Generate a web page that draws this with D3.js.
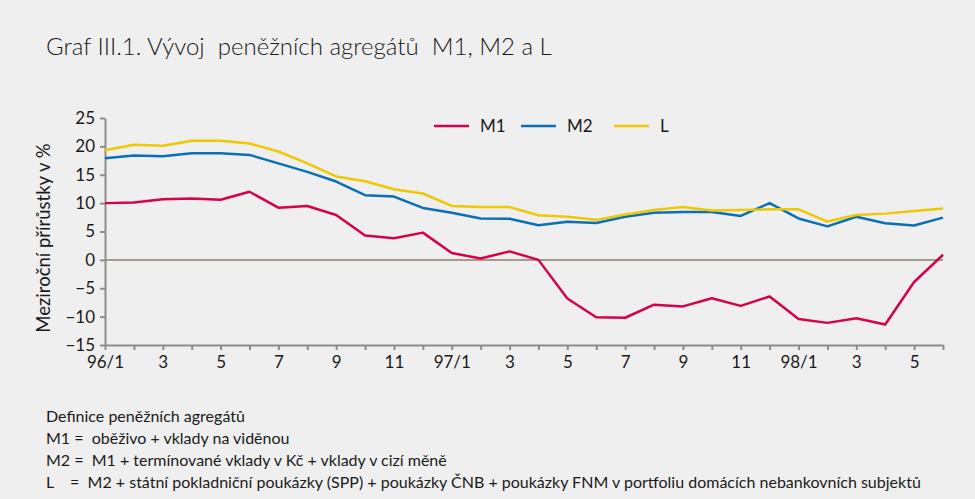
<!DOCTYPE html>
<html>
<head>
<meta charset="utf-8">
<script src="https://cdn.jsdelivr.net/npm/d3@7"></script>
<style>
    body { margin: 0; background: #efefef; }
    svg { display: block; font-family: Lato, "Open Sans", sans-serif; }
</style>
</head>
<body>
<div id="chart"></div>
<script>
    // months 96/1 .. 98/6
    const months = d3.range(30);
    const tickLabels = ['96/1', '3', '5', '7', '9', '11', '97/1', '3', '5', '7', '9', '11', '98/1', '3', '5'];

    const m1 = [10.0, 10.1, 10.7, 10.8, 10.6, 12.0, 9.2, 9.5, 7.9, 4.3, 3.8, 4.8, 1.2, 0.25, 1.5, 0.0,
        -6.8, -10.1, -10.2, -7.9, -8.2, -6.75, -8.1, -6.45, -10.4, -11.1, -10.3, -11.4, -3.9, 0.9];
    const m2 = [17.9, 18.4, 18.25, 18.8, 18.8, 18.5, 17.0, 15.5, 13.8, 11.4, 11.15, 9.15, 8.3, 7.3, 7.25, 6.1,
        6.7, 6.5, 7.6, 8.3, 8.45, 8.45, 7.75, 10.0, 7.3, 5.9, 7.6, 6.45, 6.05, 7.45];
    const lAgg = [19.3, 20.3, 20.1, 21.0, 21.0, 20.5, 19.1, 17.0, 14.7, 13.85, 12.45, 11.7, 9.5, 9.3, 9.3, 7.85,
        7.6, 7.05, 8.0, 8.8, 9.3, 8.7, 8.8, 8.9, 8.9, 6.75, 7.9, 8.15, 8.6, 9.05];

    const series = [
        {name: 'M1', values: m1, color: '#d7004f'},
        {name: 'M2', values: m2, color: '#0a6fb4'},
        {name: 'L', values: lAgg, color: '#eec800'},
    ];

    const notes = [
        'Definice peněžních agregátů',
        'M1 =  oběživo + vklady na viděnou',
        'M2 =  M1 + termínované vklady v Kč + vklady v cizí měně',
        'L    =  M2 + státní pokladniční poukázky (SPP) + poukázky ČNB + poukázky FNM v portfoliu domácích nebankovních subjektů',
    ];

    const width = 975, height = 499;
    const svg = d3.select('#chart').append('svg')
        .attr('width', width)
        .attr('height', height);

    svg.append('rect').attr('width', width).attr('height', height).attr('fill', '#efefef');

    const x = d3.scaleLinear().domain([0, 29]).range([105, 943]);
    const y = d3.scaleLinear().domain([-15, 25]).range([345, 118]);

    svg.append('text')
        .attr('x', 46).attr('y', 55)
        .attr('font-size', 24)
        .attr('font-weight', 300)
        .attr('fill', '#1a1a1a')
        .style('white-space', 'pre')
        .text('Graf III.1. Vývoj  peněžních agregátů  M1, M2 a L');

    // zero line
    svg.append('line')
        .attr('x1', x(0)).attr('x2', x(29))
        .attr('y1', y(0)).attr('y2', y(0))
        .attr('stroke', '#a39d88')
        .attr('stroke-width', 2);

    const yAxis = svg.append('g')
        .attr('transform', 'translate(' + x(0) + ',0)')
        .call(d3.axisLeft(y).tickValues(d3.range(-15, 26, 5)).tickSize(5).tickPadding(5).tickSizeOuter(0));
    const xAxis = svg.append('g')
        .attr('transform', 'translate(0,' + y(-15) + ')')
        .call(d3.axisBottom(x).tickValues(months).tickSize(5).tickSizeOuter(0)
            .tickFormat(d => d % 2 === 0 ? tickLabels[d / 2] : ''));

    [yAxis, xAxis].forEach(g => {
        g.select('.domain').attr('stroke', '#8c8c8c').attr('stroke-width', 2);
        g.selectAll('.tick line').attr('stroke', '#8c8c8c').attr('stroke-width', 2);
        g.selectAll('.tick text').attr('fill', '#1a1a1a').attr('font-size', 17).style('font-family', 'Lato, sans-serif');
    });
    xAxis.selectAll('.tick text').attr('dy', '0.9em');
    yAxis.selectAll('.tick text').attr('x', -10);

    svg.append('text')
        .attr('transform', 'translate(50,238) rotate(-90)')
        .attr('text-anchor', 'middle')
        .attr('font-size', 18.5)
        .attr('fill', '#1a1a1a')
        .text('Meziroční přírůstky v %');

    const line = d3.line()
        .x((d, i) => x(i))
        .y(d => y(d));

    series.forEach(s => {
        svg.append('path')
            .datum(s.values)
            .attr('fill', 'none')
            .attr('stroke', s.color)
            .attr('stroke-width', 2.5)
            .attr('stroke-linejoin', 'round')
            .attr('d', line);
    });

    // legend
    const legendX = [434, 521, 614];
    series.forEach((s, i) => {
        const g = svg.append('g').attr('transform', 'translate(' + legendX[i] + ',126)');
        g.append('line').attr('x1', 0).attr('x2', 35).attr('stroke', s.color).attr('stroke-width', 2.5);
        g.append('text').attr('x', 46).attr('y', 6).attr('font-size', 17).attr('fill', '#1a1a1a').text(s.name);
    });

    svg.selectAll('.note')
        .data(notes)
        .enter()
        .append('text')
        .attr('class', 'note')
        .attr('x', 46)
        .attr('y', (d, i) => 422 + i * 22)
        .attr('font-size', 16)
        .attr('fill', '#1a1a1a')
        .style('white-space', 'pre')
        .text(d => d);
</script>
</body>
</html>
